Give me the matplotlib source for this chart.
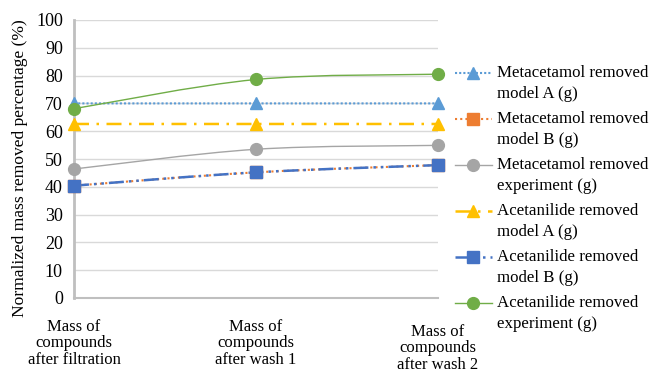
import numpy as np
import matplotlib.pyplot as plt
import matplotlib.transforms as mtransforms
from matplotlib.path import Path
from matplotlib.patches import PathPatch
from matplotlib.lines import Line2D

plt.rcParams['font.family'] = ['Liberation Serif', 'DejaVu Serif']

# categories on the x axis
stages = ['Mass of\ncompounds\nafter filtration',
          'Mass of\ncompounds\nafter wash 1',
          'Mass of\ncompounds\nafter wash 2']

# values (%)
meta_model_a = [70.0, 70.0, 70.0]
meta_model_b = [40.4, 45.2, 47.8]
meta_exp = [46.4, 53.5, 54.9]
acet_model_a = [62.6, 62.6, 62.6]
acet_model_b = [40.4, 45.2, 47.8]
acet_exp = [68.1, 78.6, 80.5]

labels = ['Metacetamol removed\nmodel A (g)',
          'Metacetamol removed\nmodel B (g)',
          'Metacetamol removed\nexperiment (g)',
          'Acetanilide removed\nmodel A (g)',
          'Acetanilide removed\nmodel B (g)',
          'Acetanilide removed\nexperiment (g)']

series = [meta_model_a, meta_model_b, meta_exp, acet_model_a, acet_model_b, acet_exp]
colors = ['#5B9BD5', '#ED7D31', '#A5A5A5', '#FFC000', '#4472C4', '#70AD47']
markers = ['^', 's', 'o', '^', 's', 'o']
styles = [(0, (1, 1)), (0, (1, 1.5)), '-', (0, (6, 3, 1, 3)), (0, (6, 2, 1, 2, 1, 2)), '-']
widths = [1.5, 1.5, 1.0, 1.8, 1.8, 1.0]


def smooth_path(x, y):
    # excel-like smoothed line through the points (bezier segments)
    pts = np.column_stack([x, y]).astype(float)
    n = len(pts)
    verts = [pts[0]]
    codes = [Path.MOVETO]
    for i in range(n - 1):
        p0 = pts[max(i - 1, 0)]
        p1 = pts[i]
        p2 = pts[i + 1]
        p3 = pts[min(i + 2, n - 1)]
        c1 = p1 + (p2 - p0) / 6
        c2 = p2 - (p3 - p1) / 6
        verts += [c1, c2, p2]
        codes += [Path.CURVE4] * 3
    return Path(verts, codes)


fig = plt.figure(figsize=(6.52, 3.72), dpi=100)
ax = fig.add_axes([74 / 652, 1 - 298 / 372, (438 - 74) / 652, (298 - 20) / 372])

xs = np.arange(len(stages))
for vals, c, m, ls, lw in zip(series, colors, markers, styles, widths):
    patch = PathPatch(smooth_path(xs, vals), facecolor='none', edgecolor=c,
                      linestyle=ls, linewidth=lw, clip_on=False)
    ax.add_patch(patch)
    ax.plot(xs, vals, linestyle='none', marker=m, color=c, markersize=8.5,
            clip_on=False, zorder=3)

ax.set_xlim(0, 2)
ax.set_ylim(0, 100)
ax.set_yticks(np.arange(0, 101, 10))
ax.set_xticks(xs)
ax.set_xticklabels(stages, fontsize=12, linespacing=1.05)
ax.tick_params(axis='y', labelsize=13, length=0, pad=8)
ax.tick_params(axis='x', length=0, pad=15)
# last category label sits a bit lower in the original
lab3 = ax.get_xticklabels()[2]
lab3.set_transform(lab3.get_transform() +
                   mtransforms.ScaledTranslation(0, -5 / 100, fig.dpi_scale_trans))
ax.grid(axis='y', color='#D9D9D9', linewidth=1)
ax.set_axisbelow(True)
for s in ['top', 'right']:
    ax.spines[s].set_visible(False)
ax.spines['left'].set_color('#BFBFBF')
ax.spines['left'].set_linewidth(2)
ax.spines['bottom'].set_color('#BFBFBF')
ax.spines['bottom'].set_linewidth(1.5)
ax.set_ylabel('Normalized mass removed percentage (%)', fontsize=12.6)
ax.yaxis.set_label_coords(-46 / 364, 0.468)

# legend on the right, marker aligned with first line of each label
for i, (lab, c, m, ls, lw) in enumerate(zip(labels, colors, markers, styles, widths)):
    yy = 1 - (73 + 46 * i) / 372
    fig.add_artist(Line2D([455 / 652, 492 / 652], [yy, yy], color=c, linestyle=ls,
                          linewidth=lw))
    fig.add_artist(Line2D([473 / 652], [yy], color=c, marker=m, markersize=8.5,
                          linestyle='none'))
    fig.text(497 / 652, yy + 8 / 372, lab, fontsize=12.2, va='top', ha='left',
             linespacing=1.45)

fig.savefig('out.png', dpi=100)
